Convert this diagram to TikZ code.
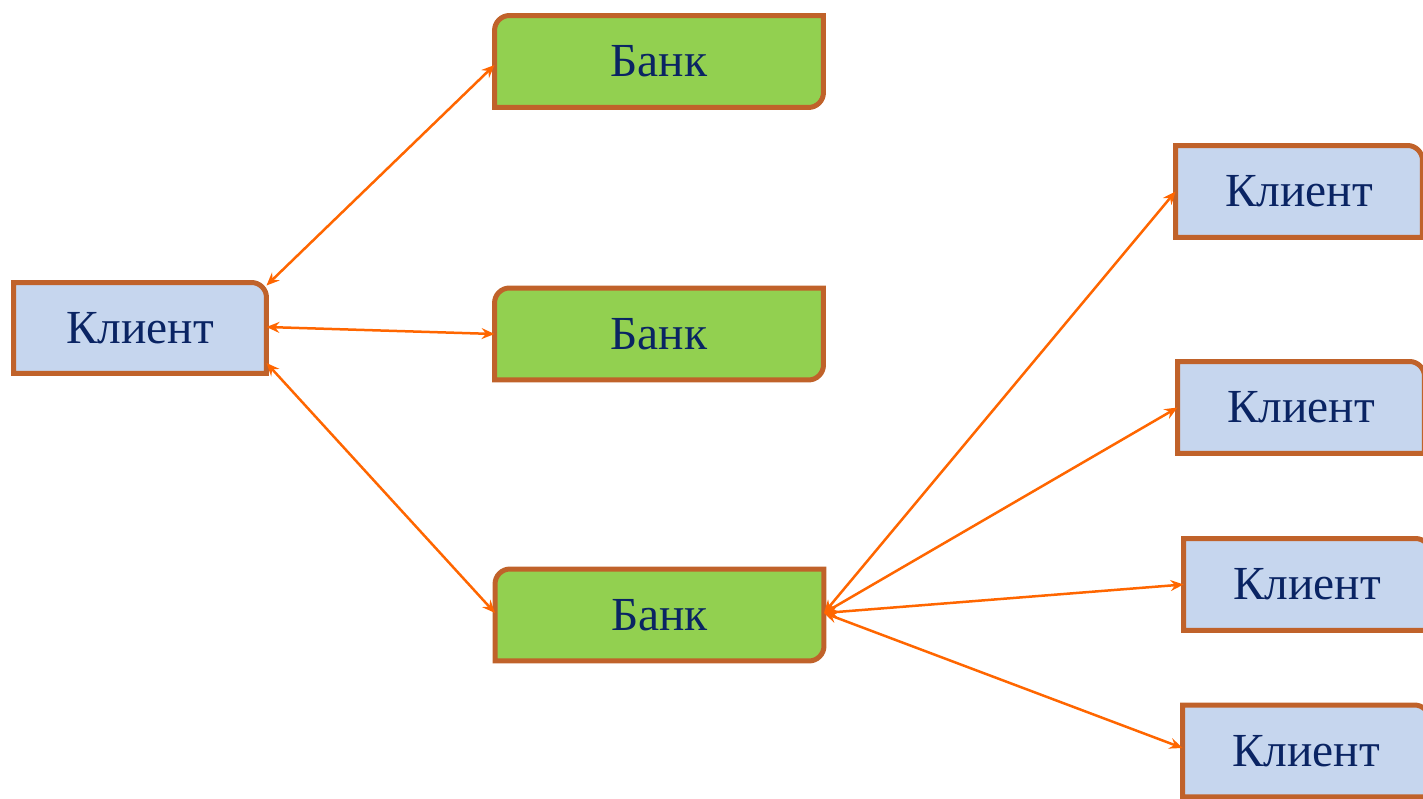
\documentclass[tikz,border=0pt]{standalone}
\usepackage{fontspec}
\setmainfont{Liberation Serif}
\usetikzlibrary{arrows.meta,backgrounds}
\definecolor{framebrown}{RGB}{192,98,42}
\definecolor{clientblue}{RGB}{198,214,238}
\definecolor{bankgreen}{RGB}{146,208,80}
\definecolor{textnavy}{RGB}{10,36,99}
\definecolor{linkorange}{RGB}{255,102,0}
\newcommand\clientframe[1]{% top right corner rounded
  (#1.south west) -- (#1.north west) -- ([xshift=-3mm]#1.north east)
  arc[start angle=90,end angle=0,radius=3mm] -- (#1.south east) -- cycle
}
\newcommand\bankframe[1]{% top left and bottom right corners rounded
  (#1.north east) -- ([xshift=3mm]#1.north west)
  arc[start angle=90,end angle=180,radius=3mm] -- (#1.south west)
  -- ([xshift=-3mm]#1.south east)
  arc[start angle=-90,end angle=0,radius=3mm] -- cycle
}

\begin{document}
\begin{tikzpicture}[x=0.02cm,y=0.02cm,
  box/.style={inner sep=0pt, outer sep=0pt, minimum height=1.84cm, text=textnavy, font=\fontsize{27}{32}\selectfont},
  client/.style={box, minimum width=4.94cm},
  bank/.style={box, minimum width=6.58cm},
  frame/.style={draw=framebrown, line width=0.1cm},
  link/.style={{Stealth[length=2.6mm,width=2.2mm,inset=0.9mm]}-{Stealth[length=2.6mm,width=2.2mm,inset=0.9mm]}, linkorange, line width=0.05cm}]
\useasboundingbox (0,0) rectangle (1423,798);
\clip (0,0) rectangle (1423,798);
\node[client, minimum width=5.06cm, minimum height=1.82cm] (c0) at (140,470) {Клиент};
\node[bank] (b1) at (659,736.5) {Банк};
\node[bank] (b2) at (659,464) {Банк};
\node[bank] (b3) at (659.5,183) {Банк};
\node[client] (r1) at (1299,606.5) {Клиент};
\node[client] (r2) at (1301,390.5) {Клиент};
\node[client] (r3) at (1307,213.5) {Клиент};
\node[client] (r4) at (1306,47) {Клиент};
%
%
\begin{scope}[on background layer]
\filldraw[frame, fill=clientblue] \clientframe{c0};
\filldraw[frame, fill=clientblue] \clientframe{r1};
\filldraw[frame, fill=clientblue] \clientframe{r2};
\filldraw[frame, fill=clientblue] \clientframe{r3};
\filldraw[frame, fill=clientblue] \clientframe{r4};
\filldraw[frame, fill=bankgreen] \bankframe{b1};
\filldraw[frame, fill=bankgreen] \bankframe{b2};
\filldraw[frame, fill=bankgreen] \bankframe{b3};
\end{scope}
%
%
\draw[link] ([yshift=-0.06cm]c0.north east) -- ([yshift=-0.07cm]b1.west);
\draw[link] ([yshift=0.02cm]c0.east) -- (b2.west);
\draw[link] ([yshift=-0.7cm]c0.east) -- ([yshift=0.04cm]b3.west);
\draw[link] ([yshift=0.04cm]b3.east) -- (r1.west);
\draw[link] ([yshift=0.04cm]b3.east) -- (r2.west);
\draw[link] ([yshift=0.04cm]b3.east) -- (r3.west);
\draw[link] ([yshift=0.04cm]b3.east) -- ([yshift=0.06cm]r4.west);
\end{tikzpicture}
\end{document}
